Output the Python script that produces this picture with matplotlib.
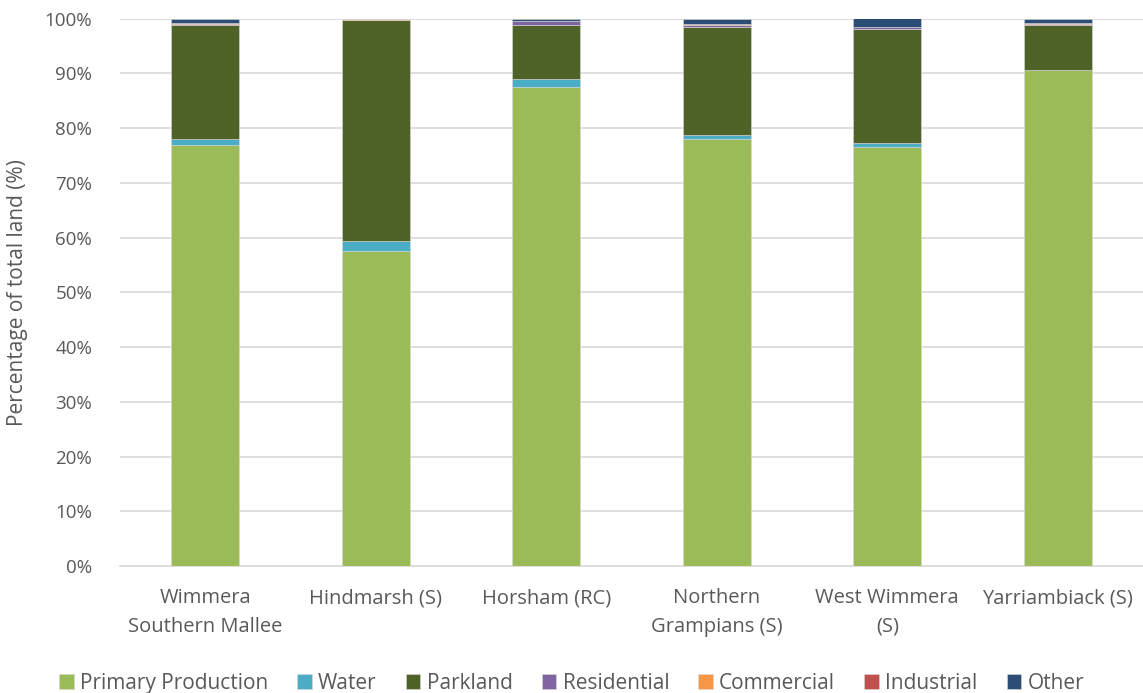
import numpy as np
import matplotlib.pyplot as plt
from matplotlib.ticker import PercentFormatter

areas = ['Wimmera\nSouthern Mallee', 'Hindmarsh (S)', 'Horsham (RC)',
         'Northern\nGrampians (S)', 'West Wimmera\n(S)', 'Yarriambiack (S)']
land_uses = ['Primary Production', 'Water', 'Parkland', 'Residential',
             'Commercial', 'Industrial', 'Other']

primary = [77.0, 57.6, 87.6, 78.1, 76.5, 90.6]
water = [1.1, 1.8, 1.4, 0.7, 0.8, 0.1]
parkland = [20.7, 40.3, 9.8, 19.6, 20.9, 8.1]
residential = [0.3, 0.15, 0.7, 0.5, 0.2, 0.3]
commercial = [0.05, 0.02, 0.1, 0.05, 0.02, 0.05]
industrial = [0.05, 0.03, 0.05, 0.05, 0.02, 0.05]
other = [0.8, 0.1, 0.35, 1.0, 1.6, 0.8]

colors = ['#9BBB59', '#4BACC6', '#4F6228', '#8064A2', '#F79646', '#C0504D', '#2C4D75']

plt.rcParams['font.family'] = ['Open Sans', 'DejaVu Sans']
txt = '#595959'

fig = plt.figure(figsize=(11.43, 6.93), dpi=100)
ax = fig.add_axes([0.105, 0.183, 0.895, 0.79])

series = [primary, water, parkland, residential, commercial, industrial, other]
x = np.arange(len(areas))
bottom = np.zeros(len(areas))
for name, vals, col in zip(land_uses, series, colors):
    vals = np.array(vals)
    ax.bar(x, vals, 0.4, bottom=bottom, color=col, label=name,
           edgecolor='#d9d9d9', linewidth=0.4, zorder=3)
    bottom += vals

ax.set_xlim(-0.5, len(areas) - 0.5)
ax.set_ylim(0, 100)
ax.set_yticks(np.arange(0, 101, 10))
ax.yaxis.set_major_formatter(PercentFormatter(decimals=0))
ax.grid(axis='y', color='#d9d9d9', linewidth=1.2, zorder=0)
for s in ['top', 'right', 'left']:
    ax.spines[s].set_visible(False)
ax.spines['bottom'].set_color('#d9d9d9')
ax.spines['bottom'].set_linewidth(1.2)
ax.tick_params(length=0, colors=txt)
ax.tick_params(axis='x', pad=16, labelsize=14.5)
ax.tick_params(axis='y', pad=20, labelsize=13.5)
ax.set_xticks(x)
ax.set_xticklabels(areas, linespacing=1.55)
ax.set_ylabel('Percentage of total land (%)', fontsize=15, color=txt, labelpad=12)

fig.legend(loc='lower center', ncol=7, frameon=False, fontsize=15,
           handlelength=0.7, handleheight=0.7, handletextpad=0.3,
           columnspacing=1.4, bbox_to_anchor=(0.5, -0.028), labelcolor=txt)

fig.savefig('out.png', dpi=100)
